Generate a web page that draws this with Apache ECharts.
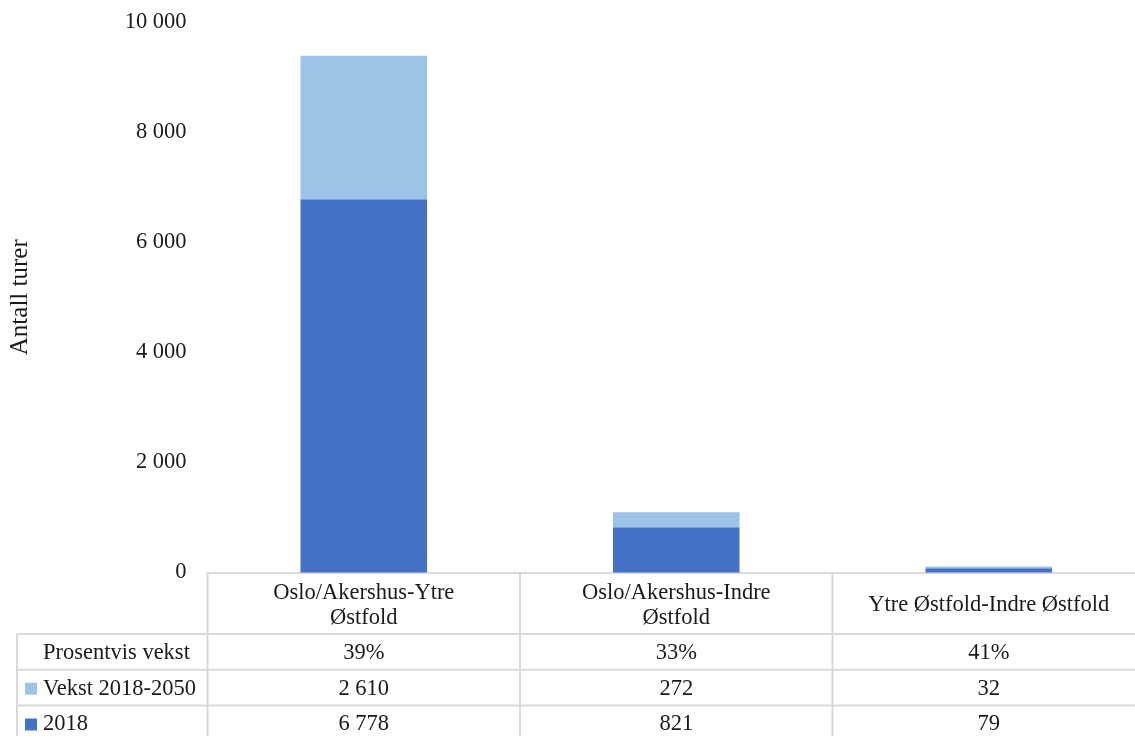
<!DOCTYPE html>
<html>
<head>
<meta charset="utf-8">
<script src="https://cdn.jsdelivr.net/npm/echarts@6/dist/echarts.min.js"></script>
<style>
  html, body { margin: 0; padding: 0; background: #fff; overflow: hidden; }
  /* plottet fortsetter litt forbi høyre kant, som i originalen */
  #chart { width: 1145px; height: 736px; }
</style>
</head>
<body>
<div id="chart"></div>
<script>
// data
const categories = ["Oslo/Akershus-Ytre\nØstfold", "Oslo/Akershus-Indre\nØstfold", "Ytre Østfold-Indre Østfold"];
const base2018 = [6778, 821, 79];
const growth = [2610, 272, 32];
const pctGrowth = ["39%", "33%", "41%"];
const yTicks = [0, 2000, 4000, 6000, 8000, 10000];

const FONT = "'Liberation Serif', 'DejaVu Serif', serif";
const FS = 22.5;
const TXT = "#1a1a1a";
const LINE = "#D9D9D9";
const C2018 = "#4472C4";
const CGROWTH = "#9DC3E6";

// mellomrom som tusenskille
const fmt = v => String(v).replace(/\B(?=(\d{3})+(?!\d))/g, " ");

const chart = echarts.init(document.getElementById("chart"));

const option = {
  animation: false,
  grid: { left: 207.5, top: 22, right: 0, bottom: 163.5, containLabel: false, outerBoundsMode: "none" },
  xAxis: {
    type: "category",
    data: categories,
    axisLine: { lineStyle: { color: LINE, width: 2 } },
    axisTick: { show: false },
    axisLabel: {
      interval: 0,
      margin: 8,
      color: TXT,
      fontFamily: FONT,
      fontSize: FS,
      lineHeight: 25,
      // enlinjede etiketter sentreres vertikalt i overskriftsraden
      formatter: v => (v.indexOf("\n") >= 0 ? v : "{one|" + v + "}"),
      rich: {
        one: { color: TXT, fontFamily: FONT, fontSize: FS, lineHeight: 25, padding: [25, 0, 0, 0] }
      }
    }
  },
  yAxis: {
    type: "value",
    min: yTicks[0],
    max: yTicks[yTicks.length - 1],
    interval: 2000,
    name: "Antall turer",
    nameLocation: "middle",
    nameRotate: 90,
    nameGap: 175,
    nameTextStyle: { color: TXT, fontFamily: FONT, fontSize: 25 },
    axisLine: { show: false },
    axisTick: { show: false },
    splitLine: { show: false },
    axisLabel: { color: TXT, fontFamily: FONT, fontSize: FS, margin: 21, formatter: fmt }
  },
  series: [
    {
      name: "2018",
      type: "bar",
      stack: "t",
      data: base2018,
      barWidth: "40.5%",
      itemStyle: { color: C2018 }
    },
    {
      name: "Vekst 2018-2050",
      type: "bar",
      stack: "t",
      data: growth,
      itemStyle: { color: CGROWTH }
    }
  ]
};
chart.setOption(option);

// datatabell under aksen
const buildTable = () => {
  const y0 = chart.convertToPixel({ yAxisIndex: 0 }, 0);
  const centers = categories.map((c, i) => chart.convertToPixel({ xAxisIndex: 0 }, i));
  const band = centers[1] - centers[0];
  const bounds = [centers[0] - band / 2].concat(centers.map(c => c + band / 2));
  const headerH = 61.5;
  const rowH = 35.8;
  const tableLeft = 17;
  const rows = [
    { label: "Prosentvis vekst", values: pctGrowth, color: null },
    { label: "Vekst 2018-2050", values: growth.map(fmt), color: CGROWTH },
    { label: "2018", values: base2018.map(fmt), color: C2018 }
  ];
  const els = [];
  const bottom = y0 + headerH + rowH * rows.length + 2;
  const lineStyle = { stroke: LINE, lineWidth: 2 };
  bounds.forEach(x => {
    els.push({ type: "line", shape: { x1: x, y1: y0, x2: x, y2: bottom }, style: lineStyle, silent: true });
  });
  els.push({ type: "line", shape: { x1: tableLeft, y1: y0 + headerH, x2: tableLeft, y2: bottom }, style: lineStyle, silent: true });
  rows.forEach((r, ri) => {
    const top = y0 + headerH + rowH * ri;
    els.push({ type: "line", shape: { x1: tableLeft, y1: top, x2: bounds[bounds.length - 1], y2: top }, style: lineStyle, silent: true });
    const cy = top + rowH / 2 + 1;
    if (r.color) {
      els.push({ type: "rect", shape: { x: 25, y: cy - 6, width: 12, height: 12 }, style: { fill: r.color }, silent: true });
    }
    els.push({
      type: "text", x: 43, y: cy,
      style: { text: r.label, fill: TXT, font: FS + "px " + FONT, textAlign: "left", textVerticalAlign: "middle" },
      silent: true
    });
    r.values.forEach((v, ci) => {
      els.push({
        type: "text", x: centers[ci], y: cy,
        style: { text: v, fill: TXT, font: FS + "px " + FONT, textAlign: "center", textVerticalAlign: "middle" },
        silent: true
      });
    });
  });
  chart.setOption({ graphic: { elements: els } });
};
buildTable();
</script>
</body>
</html>
